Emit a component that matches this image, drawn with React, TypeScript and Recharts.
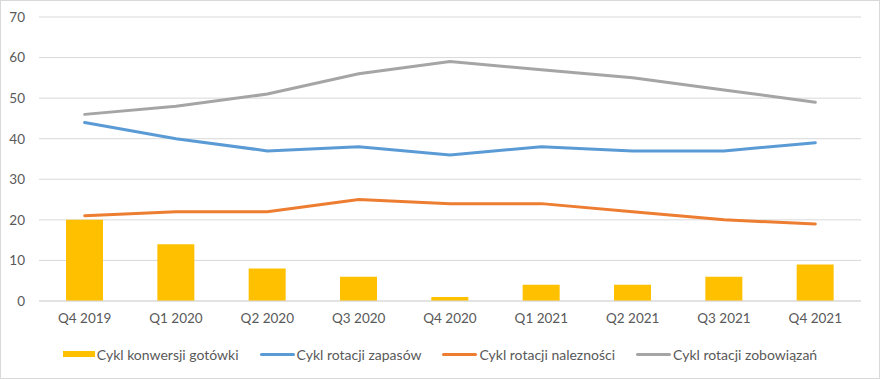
import React from "react";
import { ComposedChart, Bar, Line, XAxis, YAxis, CartesianGrid } from "recharts";

const categories = ["Q4 2019", "Q1 2020", "Q2 2020", "Q3 2020", "Q4 2020", "Q1 2021", "Q2 2021", "Q3 2021", "Q4 2021"];
const cashConversion = [20, 14, 8, 6, 1, 4, 4, 6, 9];
const inventoryTurnover = [44, 40, 37, 38, 36, 38, 37, 37, 39];
const receivablesTurnover = [21, 22, 22, 25, 24, 24, 22, 20, 19];
const payablesTurnover = [46, 48, 51, 56, 59, 57, 55, 52, 49];
const yTicks = [0, 10, 20, 30, 40, 50, 60, 70];

const seriesNames = {
  cash: "Cykl konwersji gotówki",
  inv: "Cykl rotacji zapasów",
  rec: "Cykl rotacji nalezności",
  pay: "Cykl rotacji zobowiązań",
};

const colors = {
  cash: "#FFC000",
  inv: "#5B9BD5",
  rec: "#ED7D31",
  pay: "#A5A5A5",
};

const data = categories.map((c, i) => ({
  name: c,
  cash: cashConversion[i],
  inv: inventoryTurnover[i],
  rec: receivablesTurnover[i],
  pay: payablesTurnover[i],
}));

const FONT = "Lato, 'Liberation Sans', sans-serif";
const TEXT = "#595959";

const legendItems: { key: keyof typeof colors; type: "rect" | "line" }[] = [
  { key: "cash", type: "rect" },
  { key: "inv", type: "line" },
  { key: "rec", type: "line" },
  { key: "pay", type: "line" },
];

export default function App() {
  return (
    <div style={{ position: "absolute", left: 0, top: 0, width: 880, height: 379, background: "#fff", fontFamily: FONT }}>
      <ComposedChart
        width={880}
        height={379}
        data={data}
        margin={{ top: 17, right: 19, bottom: 48, left: 0 }}
        style={{ position: "absolute", left: 0, top: 0 }}
      >
        <CartesianGrid vertical={false} stroke="#d9d9d9" strokeWidth={1} />
        <XAxis
          dataKey="name"
          axisLine={{ stroke: "#d9d9d9" }}
          tickLine={false}
          tickSize={0}
          tickMargin={12}
          height={30}
          interval={0}
          tick={{ fill: TEXT, fontSize: 13.5, fontFamily: FONT }}
        />
        <YAxis
          domain={[0, 70]}
          ticks={yTicks}
          axisLine={false}
          tickLine={false}
          tickSize={0}
          tickMargin={14}
          width={39}
          interval={0}
          tick={{ fill: TEXT, fontSize: 13.5, fontFamily: FONT }}
        />
        <Bar dataKey="cash" name={seriesNames.cash} fill={colors.cash} barSize={37} isAnimationActive={false} />
        <Line dataKey="inv" name={seriesNames.inv} stroke={colors.inv} strokeWidth={3} strokeLinecap="round" dot={false} activeDot={false} type="linear" isAnimationActive={false} />
        <Line dataKey="rec" name={seriesNames.rec} stroke={colors.rec} strokeWidth={3} strokeLinecap="round" dot={false} activeDot={false} type="linear" isAnimationActive={false} />
        <Line dataKey="pay" name={seriesNames.pay} stroke={colors.pay} strokeWidth={3} strokeLinecap="round" dot={false} activeDot={false} type="linear" isAnimationActive={false} />
      </ComposedChart>
      <div
        style={{
          position: "absolute",
          left: 0,
          top: 344,
          width: 880,
          height: 20,
          display: "flex",
          justifyContent: "center",
          alignItems: "center",
          gap: 21,
          fontSize: 14,
          color: TEXT,
          whiteSpace: "nowrap",
        }}
      >
        {legendItems.map((it) => (
          <div key={it.key} style={{ display: "flex", alignItems: "center" }}>
            {it.type === "rect" ? (
              <div style={{ width: 32, height: 6, background: colors[it.key], marginRight: 2 }} />
            ) : (
              <div style={{ width: 35, height: 3, borderRadius: 2, background: colors[it.key], marginRight: 2 }} />
            )}
            <span>{seriesNames[it.key]}</span>
          </div>
        ))}
      </div>
      <div style={{ position: "absolute", left: 0, top: 0, width: 880, height: 379, boxSizing: "border-box", border: "1px solid #d9d9d9", pointerEvents: "none" }} />
    </div>
  );
}
